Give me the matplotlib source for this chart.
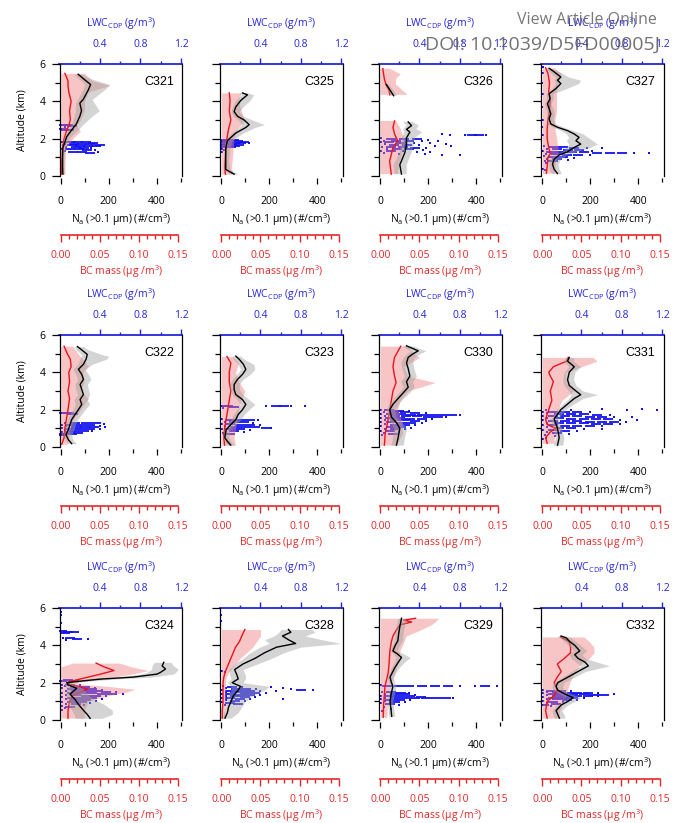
"""Vertical profiles of Na, BC mass and CDP LWC for 12 flights (3x4 panels)."""
import numpy as np
import matplotlib
matplotlib.use('Agg')
import matplotlib.pyplot as plt
from matplotlib.ticker import FixedLocator, FormatStrFormatter

plt.rcParams['font.family'] = ['Open Sans', 'DejaVu Sans']
plt.rcParams['mathtext.fontset'] = 'custom'
plt.rcParams['mathtext.rm'] = 'Open Sans'
plt.rcParams['mathtext.it'] = 'Open Sans:italic'
plt.rcParams['mathtext.default'] = 'regular'

# ── panel layout (row by row) ──
FLIGHTS = [['C321', 'C325', 'C326', 'C327'],
           ['C322', 'C323', 'C330', 'C331'],
           ['C324', 'C328', 'C329', 'C332']]

# ── Na profiles: (altitude km, mean, low, high) in #/cm3 ──
NA_C321 = [(0.1, 8, 3, 14), (0.5, 7, 3, 13), (1.0, 7, 3, 13), (1.5, 8, 4, 16),
           (2.1, 24, 12, 40), (2.45, 44, 28, 70), (2.8, 65, 45, 95), (3.2, 79, 55, 130),
           (3.5, 86, 60, 160), (3.9, 79, 62, 140), (4.1, 93, 70, 130), (4.6, 114, 90, 180),
           (4.9, 124, 100, 205), (5.15, 100, 80, 140), (5.3, 86, 65, 110), (5.45, 72, 55, 90)]
NA_C325 = [(0.1, 53, 40, 70), (0.35, 18, 8, 35), (0.8, 18, 8, 30), (1.5, 18, 10, 35),
           (1.9, 25, 15, 45), (2.3, 60, 40, 90), (2.6, 102, 75, 140), (2.75, 116, 85, 180),
           (3.0, 95, 70, 130), (3.2, 67, 50, 90), (3.45, 53, 40, 75), (3.7, 60, 45, 90),
           (4.05, 81, 60, 120), (4.35, 109, 85, 135), (4.45, 88, 70, 110)]
NA_C326 = [(0.1, 88, 60, 110), (0.6, 81, 55, 110), (1.25, 102, 80, 130), (1.7, 109, 85, 140),
           (2.05, 109, 90, 145), (2.35, 123, 100, 175), (2.5, 109, 95, 150), (2.7, 130, 110, 160),
           (2.9, 116, 95, 135), (3.5, np.nan, np.nan, np.nan),
           (4.3, 55, 45, 70), (4.5, 45, 35, 58), (4.7, 35, 25, 48), (4.9, 25, 18, 35)]
NA_C327 = [(0.13, 63, 40, 80), (0.36, 49, 30, 70), (0.63, 42, 25, 65), (0.9, 49, 30, 75),
           (1.13, 70, 50, 100), (1.3, 105, 80, 140), (1.53, 133, 100, 200), (1.71, 160, 110, 230),
           (1.89, 140, 100, 210), (2.07, 153, 110, 190), (2.25, 133, 100, 170), (2.43, 105, 80, 130),
           (2.61, 63, 45, 90), (2.79, 35, 20, 55), (3.06, 28, 18, 45), (3.33, 35, 20, 50),
           (3.6, 28, 15, 45), (3.87, 21, 10, 35), (4.14, 32, 18, 45), (4.41, 28, 15, 45),
           (4.68, 56, 40, 100), (4.95, 77, 55, 150), (5.13, 63, 50, 160), (5.3, 77, 55, 110),
           (5.58, 49, 30, 70), (5.77, 28, 15, 40)]
NA_C322 = [(0.18, 45, 30, 65), (0.39, 31, 18, 50), (0.66, 21, 10, 45), (0.93, 31, 15, 55),
           (1.2, 38, 20, 60), (1.47, 45, 28, 70), (1.74, 59, 38, 85), (2.0, 73, 50, 100),
           (2.28, 87, 60, 120), (2.54, 80, 55, 110), (2.81, 94, 70, 120), (3.08, 87, 62, 115),
           (3.35, 80, 58, 110), (3.62, 94, 70, 125), (3.89, 87, 62, 115), (4.16, 73, 50, 100),
           (4.43, 94, 70, 130), (4.7, 105, 80, 190), (4.85, 108, 85, 200), (4.96, 110, 85, 170),
           (5.2, 87, 65, 115), (5.38, 69, 55, 95)]
NA_C323 = [(0.1, 39, 25, 55), (0.3, 25, 12, 40), (0.5, 14, 5, 30), (0.93, 20, 10, 35),
           (1.2, 39, 25, 60), (1.47, 60, 40, 80), (1.74, 70, 50, 95), (2.0, 88, 65, 115),
           (2.28, 102, 80, 140), (2.54, 88, 65, 115), (2.81, 60, 45, 90), (3.08, 53, 35, 75),
           (3.35, 53, 35, 75), (3.62, 67, 45, 90), (3.89, 88, 65, 120), (4.16, 102, 80, 140),
           (4.43, 92, 70, 135), (4.7, 74, 50, 95), (4.87, 60, 45, 80)]
NA_C330 = [(0.1, 67, 45, 95), (0.5, 74, 50, 100), (1.0, 81, 55, 110), (1.3, 67, 45, 90),
           (1.6, 46, 30, 65), (2.0, 39, 25, 60), (2.3, 53, 35, 75), (2.6, 74, 55, 95),
           (2.9, 95, 75, 120), (3.2, 116, 95, 140), (3.5, 109, 85, 135), (3.8, 123, 100, 150),
           (4.2, 116, 90, 140), (4.5, 109, 85, 135), (4.8, 116, 95, 140), (5.0, 137, 110, 165),
           (5.15, 158, 125, 190), (5.42, 109, 90, 135)]
NA_C331 = [(0.1, 63, 45, 85), (0.5, 70, 55, 90), (1.0, 63, 45, 80), (1.5, 49, 35, 65),
           (2.0, 77, 60, 95), (2.3, 105, 85, 130), (2.6, 133, 110, 170), (2.8, 160, 120, 230),
           (3.0, 140, 110, 170), (3.3, 112, 90, 140), (3.6, 105, 85, 130), (4.0, 112, 90, 135),
           (4.3, 133, 110, 160), (4.6, 105, 90, 130), (4.8, 112, 95, 130)]
NA_C324 = [(0.09, 122, 60, 170), (0.3, 110, 55, 215), (0.52, 94, 45, 215), (0.84, 73, 30, 180),
           (1.1, 59, 25, 140), (1.38, 38, 20, 110), (1.7, 66, 25, 90), (1.88, 31, 15, 60),
           (2.0, 24, 12, 45), (2.06, 66, 30, 100), (2.19, 164, 100, 220), (2.3, 304, 240, 380),
           (2.46, 402, 330, 470), (2.55, 416, 360, 480), (2.73, 437, 380, 490), (2.9, 423, 380, 470),
           (3.09, 430, 390, 460)]
NA_C328 = [(0.1, 15, 5, 40), (0.4, 25, 10, 70), (0.7, 30, 15, 85), (1.0, 40, 20, 100),
           (1.3, 50, 25, 130), (1.6, 70, 40, 180), (1.8, 80, 40, 200), (2.0, 45, 25, 90),
           (2.2, 70, 40, 100), (2.4, 65, 35, 100), (2.7, 55, 30, 90), (3.0, 90, 55, 150),
           (3.3, 140, 90, 210), (3.6, 180, 120, 260), (3.9, 230, 160, 330), (4.1, 310, 200, 500),
           (4.3, 280, 180, 420), (4.5, 255, 220, 350), (4.7, 290, 240, 390), (4.85, 280, 250, 380)]
NA_C329 = [(0.2, 47, 35, 60), (0.6, 44, 32, 56), (1.0, 40, 28, 52), (1.4, 45, 32, 58),
           (1.8, 52, 40, 66), (2.05, 45, 33, 58), (2.3, 40, 28, 55), (2.55, 50, 38, 65),
           (2.8, 60, 45, 78), (3.1, 75, 58, 100), (3.35, 88, 65, 125), (3.55, 70, 55, 95),
           (3.7, 52, 40, 70), (4.0, 62, 48, 80), (4.25, 73, 58, 92), (4.6, 76, 60, 95),
           (5.0, 81, 65, 100), (5.25, 85, 70, 105), (5.45, 88, 72, 105)]
NA_C332 = [(0.1, 71, 50, 95), (0.3, 64, 45, 90), (0.5, 57, 40, 80), (0.8, 78, 60, 105),
           (1.0, 107, 85, 135), (1.2, 128, 100, 160), (1.4, 92, 70, 120), (1.6, 64, 45, 90),
           (1.8, 57, 40, 85), (2.0, 64, 45, 90), (2.3, 107, 85, 135), (2.6, 149, 120, 180),
           (2.9, 192, 160, 280), (3.1, 178, 140, 230), (3.3, 149, 120, 180), (3.5, 135, 110, 165),
           (3.7, 156, 130, 185), (4.0, 135, 110, 160), (4.2, 114, 90, 140), (4.4, 99, 75, 120),
           (4.5, 78, 60, 100)]

# ── BC mass profiles: (altitude km, mean, low, high) in ug/m3 ──
BC_C321 = [(0.1, 0.001, 0, 0.005), (0.6, 0.001, 0, 0.005), (1.5, 0.002, 0, 0.006),
           (2.0, 0.004, 0, 0.015), (2.4, 0.007, 0, 0.025), (2.7, 0.010, 0, 0.02),
           (3.0, 0.012, 0, 0.025), (3.5, 0.011, 0, 0.03), (4.0, 0.013, 0, 0.03),
           (4.5, 0.010, 0, 0.035), (4.85, 0.009, 0, 0.062), (5.1, 0.009, 0, 0.04),
           (5.3, 0.007, 0, 0.035), (5.5, 0.005, 0, 0.03)]
BC_C325 = [(0.1, 0.005, 0, 0.014), (0.5, 0.004, 0, 0.013), (1.0, 0.005, 0, 0.014),
           (1.5, 0.006, 0, 0.015), (2.0, 0.007, 0, 0.016), (2.5, 0.009, 0, 0.02),
           (3.0, 0.012, 0, 0.03), (3.5, 0.010, 0, 0.025), (4.0, 0.011, 0, 0.022),
           (4.45, 0.010, 0, 0.025)]
BC_C326 = [(0.1, 0.0138, 0, 0.022), (0.8, 0.0117, 0, 0.025), (1.5, 0.0159, 0, 0.03),
           (1.9, 0.022, 0, 0.032), (2.25, 0.018, 0, 0.028), (2.6, 0.016, 0, 0.025),
           (2.95, 0.018, 0, 0.02), (3.5, np.nan, np.nan, np.nan),
           (4.35, 0.012, 0, 0.035), (4.6, 0.011, 0, 0.028), (4.9, 0.007, 0, 0.02),
           (5.2, 0.005, 0, 0.02), (5.45, 0.004, 0, 0.026), (5.75, 0.003, 0, 0.012)]
BC_C327 = [(0.15, 0.005, 0, 0.015), (0.5, 0.006, 0, 0.016), (1.0, 0.007, 0, 0.018),
           (1.2, 0.010, 0, 0.02), (1.5, 0.008, 0, 0.02), (2.0, 0.006, 0, 0.018),
           (2.5, 0.006, 0, 0.016), (3.0, 0.007, 0, 0.016), (3.5, 0.009, 0, 0.018),
           (4.0, 0.010, 0, 0.018), (4.5, 0.008, 0, 0.018), (5.0, 0.009, 0, 0.02),
           (5.5, 0.007, 0, 0.024), (5.8, 0.004, 0, 0.015)]
BC_C322 = [(0.15, 0.001, 0, 0.008), (0.5, 0.004, 0, 0.01), (1.0, 0.005, 0, 0.012),
           (1.5, 0.007, 0, 0.016), (2.0, 0.009, 0, 0.025), (2.3, 0.010, 0, 0.03),
           (2.6, 0.011, 0, 0.035), (3.0, 0.009, 0, 0.025), (3.5, 0.011, 0, 0.03),
           (4.0, 0.010, 0, 0.028), (4.3, 0.013, 0, 0.035), (4.7, 0.012, 0, 0.028),
           (5.0, 0.008, 0, 0.022), (5.4, 0.004, 0, 0.015)]
BC_C323 = [(0.1, 0.004, 0, 0.018), (0.5, 0.003, 0, 0.016), (1.0, 0.004, 0, 0.018),
           (1.5, 0.006, 0, 0.02), (2.0, 0.008, 0, 0.022), (2.5, 0.010, 0, 0.025),
           (3.0, 0.012, 0, 0.03), (3.5, 0.010, 0, 0.022), (4.0, 0.010, 0, 0.018),
           (4.5, 0.012, 0, 0.022), (4.85, 0.007, 0, 0.015)]
BC_C330 = [(0.1, 0.005, 0, 0.02), (0.7, 0.006, 0, 0.028), (1.3, 0.009, 0, 0.028),
           (2.0, 0.012, 0, 0.022), (2.5, 0.014, 0, 0.025), (3.0, 0.016, 0, 0.035),
           (3.45, 0.020, 0, 0.07), (3.8, 0.018, 0, 0.035), (4.3, 0.016, 0, 0.03),
           (4.8, 0.018, 0, 0.05), (5.1, 0.022, 0, 0.04), (5.4, 0.026, 0, 0.035)]
BC_C331 = [(0.2, 0.006, 0, 0.015), (0.5, 0.004, 0, 0.015), (0.8, 0.010, 0, 0.02),
           (1.0, 0.017, 0, 0.025), (1.2, 0.006, 0, 0.018), (1.5, 0.004, 0, 0.015),
           (2.0, 0.008, 0, 0.02), (2.5, 0.012, 0, 0.025), (3.0, 0.010, 0, 0.04),
           (3.5, 0.014, 0, 0.03), (3.8, 0.010, 0, 0.03), (4.0, 0.008, 0, 0.03),
           (4.3, 0.014, 0, 0.05), (4.6, 0.031, 0, 0.07), (4.8, 0.033, 0, 0.065)]
BC_C324 = [(0.1, 0.009, 0, 0.03), (0.5, 0.009, 0, 0.03), (1.0, 0.011, 0, 0.035),
           (1.3, 0.015, 0, 0.06), (1.5, 0.025, 0, 0.085), (1.65, 0.034, 0, 0.095),
           (1.8, 0.022, 0, 0.06), (1.9, 0.012, 0, 0.03), (2.0, 0.008, 0, 0.02),
           (2.1, 0.015, 0, 0.03), (2.25, 0.03, 0, 0.06), (2.45, 0.05, 0, 0.09),
           (2.65, 0.068, 0, 0.112), (2.85, 0.055, 0, 0.09), (3.05, 0.045, 0.015, 0.075)]
BC_C328 = [(0.1, 0.001, 0, 0.004), (0.5, 0.001, 0, 0.004), (1.0, 0.002, 0, 0.005),
           (1.5, 0.002, 0, 0.005), (2.0, 0.002, 0, 0.005), (2.3, 0.003, 0, 0.006),
           (2.6, 0.005, 0, 0.01), (2.9, 0.008, 0, 0.016), (3.3, 0.012, 0, 0.024),
           (3.6, 0.015, 0, 0.032), (3.9, 0.018, 0, 0.04), (4.2, 0.023, 0, 0.045),
           (4.5, 0.026, 0, 0.05), (4.85, 0.030, 0, 0.05)]
BC_C329 = [(0.15, 0.0035, 0, 0.008), (0.8, 0.004, 0, 0.009), (1.8, 0.0057, 0, 0.012),
           (2.5, 0.0098, 0, 0.018), (3.0, 0.011, 0, 0.022), (3.7, 0.012, 0, 0.025),
           (4.2, 0.014, 0, 0.03), (4.5, 0.016, 0, 0.033), (4.8, 0.020, 0, 0.05),
           (5.1, 0.025, 0, 0.065), (5.25, 0.040, 0, 0.07), (5.35, 0.030, 0, 0.072),
           (5.45, 0.045, 0, 0.075)]
BC_C332 = [(0.1, 0.006, 0, 0.02), (0.5, 0.004, 0, 0.022), (1.0, 0.006, 0, 0.028),
           (1.3, 0.015, 0, 0.03), (1.6, 0.019, 0, 0.032), (2.0, 0.015, 0, 0.035),
           (2.3, 0.019, 0, 0.038), (2.6, 0.024, 0, 0.042), (3.0, 0.019, 0, 0.049),
           (3.3, 0.028, 0, 0.06), (3.6, 0.036, 0, 0.066), (3.9, 0.036, 0, 0.066),
           (4.2, 0.034, 0, 0.06), (4.45, 0.023, 0, 0.053)]

# ── CDP liquid water content samples: (altitude km, LWC g/m3) ──
LWC_C321 = [(1.8, 0.02), (1.8, 0.10), (1.8, 0.18), (1.8, 0.26), (1.78, 0.33),
            (1.72, 0.05), (1.72, 0.14), (1.72, 0.22), (1.7, 0.30), (1.68, 0.40),
            (1.64, 0.03), (1.64, 0.12), (1.62, 0.20), (1.6, 0.28), (1.62, 0.36),
            (1.55, 0.06), (1.55, 0.16), (1.52, 0.24), (1.5, 0.31),
            (1.45, 0.02), (1.45, 0.10), (1.42, 0.19), (1.4, 0.27), (1.38, 0.35),
            (1.33, 0.05), (1.3, 0.13), (1.3, 0.22), (1.28, 0.38), (1.25, 0.30),
            (2.75, 0.02), (2.72, 0.08), (2.7, 0.12), (2.5, 0.03), (2.48, 0.09),
            (2.45, 0.06), (2.6, 0.05)]
LWC_C325 = [(1.95, 0.02), (1.95, 0.08), (1.93, 0.14), (1.9, 0.05), (1.88, 0.11),
            (1.86, 0.18), (1.84, 0.24), (1.8, 0.03), (1.8, 0.09), (1.78, 0.15),
            (1.76, 0.21), (1.75, 0.29), (1.72, 0.06), (1.7, 0.12), (1.68, 0.19),
            (1.65, 0.02), (1.63, 0.09), (1.6, 0.15), (1.58, 0.05), (1.55, 0.11),
            (1.45, 0.02), (1.4, 0.04), (1.3, 0.02)]
LWC_C326 = [(2.02, 0.02), (2.0, 0.12), (2.0, 0.25), (1.98, 0.38), (1.95, 0.48),
            (1.9, 0.05), (1.9, 0.17), (1.88, 0.3), (1.86, 0.42), (1.85, 0.58),
            (1.8, 0.02), (1.8, 0.1), (1.78, 0.22), (1.76, 0.35), (1.75, 0.5), (1.74, 0.66),
            (1.7, 0.06), (1.68, 0.15), (1.67, 0.28), (1.65, 0.4), (1.63, 0.55), (1.62, 0.71),
            (1.58, 0.03), (1.56, 0.12), (1.55, 0.24), (1.52, 0.36), (1.5, 0.46),
            (1.46, 0.08), (1.44, 0.18), (1.42, 0.3), (1.4, 0.43),
            (1.36, 0.02), (1.34, 0.12), (1.32, 0.24), (1.3, 0.38), (1.28, 0.5),
            (1.22, 0.05), (1.2, 0.2), (1.18, 0.45), (1.15, 0.62), (1.12, 0.8),
            (2.22, 0.85), (2.22, 0.92), (2.21, 0.99), (2.2, 1.06), (2.25, 0.62), (2.2, 0.7)]
LWC_C327 = [(1.6, 0.03), (1.58, 0.12), (1.55, 0.22), (1.52, 0.33), (1.5, 0.45), (1.48, 0.6),
            (1.45, 0.06), (1.42, 0.16), (1.4, 0.27), (1.38, 0.38), (1.36, 0.5),
            (1.32, 0.02), (1.3, 0.1), (1.28, 0.2), (1.27, 0.31), (1.26, 0.42), (1.25, 0.55),
            (1.25, 0.68), (1.24, 0.8), (1.25, 0.92), (1.24, 1.07),
            (1.2, 0.05), (1.18, 0.15), (1.15, 0.26), (1.12, 0.37), (1.1, 0.48),
            (1.05, 0.03), (1.02, 0.12), (1.0, 0.22), (0.97, 0.33),
            (0.92, 0.06), (0.9, 0.16), (0.86, 0.27), (0.8, 0.04), (0.78, 0.12), (0.72, 0.05),
            (2.2, 0.02), (2.6, 0.01), (3.0, 0.02), (3.7, 0.01), (4.4, 0.02), (5.0, 0.01),
            (5.5, 0.02), (5.85, 0.02), (0.4, 0.02), (0.3, 0.04)]
LWC_C322 = [(1.3, 0.05), (1.28, 0.15), (1.27, 0.26), (1.26, 0.36), (1.25, 0.44),
            (1.2, 0.02), (1.18, 0.1), (1.17, 0.2), (1.16, 0.3), (1.15, 0.4),
            (1.1, 0.06), (1.08, 0.16), (1.07, 0.25), (1.06, 0.34), (1.05, 0.45),
            (1.0, 0.02), (0.98, 0.1), (0.97, 0.2), (0.96, 0.3), (0.95, 0.4),
            (0.9, 0.05), (0.88, 0.14), (0.86, 0.24), (0.84, 0.32),
            (0.8, 0.02), (0.78, 0.1), (0.76, 0.18), (0.72, 0.04), (0.7, 0.12),
            (0.65, 0.02), (0.62, 0.06),
            (1.82, 0.01), (1.8, 0.05), (1.8, 0.09), (1.79, 0.13)]
LWC_C323 = [(1.48, 0.02), (1.46, 0.1), (1.45, 0.2), (1.44, 0.3), (1.42, 0.38),
            (1.36, 0.05), (1.34, 0.14), (1.32, 0.24), (1.3, 0.33),
            (1.25, 0.02), (1.22, 0.1), (1.2, 0.2), (1.18, 0.3), (1.17, 0.4),
            (1.1, 0.05), (1.08, 0.15), (1.06, 0.25), (1.05, 0.35), (1.04, 0.45), (1.03, 0.5),
            (0.98, 0.02), (0.96, 0.1), (0.94, 0.2), (0.92, 0.3),
            (0.86, 0.05), (0.84, 0.14), (0.8, 0.24), (0.75, 0.03), (0.72, 0.1), (0.66, 0.04),
            (2.2, 0.02), (2.18, 0.08), (2.15, 0.14), (2.2, 0.45), (2.2, 0.55), (2.2, 0.63),
            (2.2, 0.7), (2.21, 0.84), (2.1, 0.03)]
LWC_C330 = [(1.98, 0.02), (1.96, 0.1), (1.95, 0.2), (1.93, 0.3),
            (1.88, 0.05), (1.86, 0.15), (1.85, 0.26), (1.84, 0.36), (1.82, 0.46),
            (1.78, 0.02), (1.76, 0.12), (1.75, 0.22), (1.74, 0.32), (1.72, 0.42), (1.72, 0.52),
            (1.73, 0.62), (1.74, 0.72), (1.74, 0.8),
            (1.68, 0.06), (1.66, 0.16), (1.65, 0.27), (1.64, 0.38), (1.62, 0.48), (1.62, 0.58),
            (1.6, 0.66),
            (1.56, 0.02), (1.55, 0.11), (1.54, 0.21), (1.52, 0.31), (1.5, 0.42), (1.5, 0.52),
            (1.45, 0.06), (1.43, 0.16), (1.42, 0.26), (1.4, 0.36), (1.38, 0.46),
            (1.34, 0.02), (1.32, 0.12), (1.3, 0.22), (1.28, 0.32), (1.26, 0.42),
            (1.22, 0.06), (1.2, 0.16), (1.18, 0.26), (1.16, 0.36),
            (1.1, 0.02), (1.08, 0.12), (1.06, 0.22), (1.04, 0.32),
            (0.98, 0.06), (0.96, 0.16), (0.94, 0.26),
            (0.88, 0.02), (0.85, 0.11), (0.82, 0.2), (0.76, 0.05), (0.72, 0.14), (0.66, 0.03)]
LWC_C331 = [(2.0, 0.05), (2.0, 0.3), (2.02, 0.6), (2.0, 0.85), (2.01, 1.0), (2.0, 1.15),
            (1.9, 0.02), (1.88, 0.12), (1.87, 0.24), (1.86, 0.36), (1.85, 0.48),
            (1.8, 0.06), (1.78, 0.18), (1.76, 0.3), (1.75, 0.42), (1.74, 0.55), (1.73, 0.68),
            (1.68, 0.02), (1.66, 0.12), (1.65, 0.24), (1.64, 0.36), (1.62, 0.48), (1.61, 0.6),
            (1.6, 0.72), (1.6, 0.9),
            (1.55, 0.06), (1.53, 0.18), (1.52, 0.3), (1.5, 0.42), (1.49, 0.54), (1.48, 0.66),
            (1.47, 0.78), (1.47, 0.95),
            (1.42, 0.02), (1.4, 0.12), (1.39, 0.24), (1.38, 0.36), (1.36, 0.48), (1.35, 0.6),
            (1.34, 0.72), (1.34, 0.84),
            (1.3, 0.06), (1.28, 0.18), (1.27, 0.3), (1.26, 0.42), (1.25, 0.54), (1.24, 0.66),
            (1.22, 0.78),
            (1.18, 0.02), (1.16, 0.12), (1.15, 0.24), (1.13, 0.36), (1.12, 0.48), (1.1, 0.6),
            (1.05, 0.06), (1.03, 0.18), (1.0, 0.3), (0.98, 0.42), (0.97, 0.6),
            (0.92, 0.02), (0.9, 0.12), (0.88, 0.24), (0.85, 0.36),
            (0.78, 0.06), (0.75, 0.16), (0.72, 0.28), (0.65, 0.04), (0.6, 0.14), (0.5, 0.05),
            (0.42, 0.02)]
LWC_C324 = [(1.9, 0.02), (1.88, 0.1), (1.86, 0.2),
            (1.8, 0.05), (1.78, 0.15), (1.76, 0.25), (1.74, 0.35),
            (1.7, 0.02), (1.68, 0.12), (1.66, 0.22), (1.64, 0.32), (1.62, 0.42),
            (1.58, 0.06), (1.56, 0.16), (1.55, 0.26), (1.54, 0.36), (1.52, 0.46), (1.5, 0.56),
            (1.46, 0.02), (1.44, 0.12), (1.43, 0.22), (1.42, 0.32), (1.4, 0.42), (1.38, 0.52),
            (1.38, 0.63),
            (1.34, 0.06), (1.32, 0.16), (1.3, 0.26), (1.28, 0.36), (1.26, 0.46),
            (1.22, 0.02), (1.2, 0.12), (1.18, 0.22), (1.16, 0.32), (1.14, 0.42),
            (1.1, 0.06), (1.08, 0.16), (1.06, 0.26), (1.04, 0.36),
            (0.98, 0.02), (0.96, 0.12), (0.94, 0.22), (0.92, 0.3),
            (0.86, 0.06), (0.84, 0.16), (0.8, 0.24), (0.74, 0.02), (0.72, 0.1), (0.65, 0.05),
            (0.55, 0.02),
            (2.1, 0.02), (2.12, 0.08), (2.1, 0.14),
            (4.75, 0.02), (4.72, 0.08), (4.7, 0.14), (4.65, 0.05), (4.4, 0.03), (4.38, 0.1),
            (4.35, 0.17), (4.35, 0.28), (4.3, 0.06),
            (5.2, 0.01), (5.6, 0.01), (5.8, 0.01)]
LWC_C328 = [(1.8, 0.03), (1.78, 0.12), (1.76, 0.22), (1.75, 0.5), (1.74, 0.62),
            (1.7, 0.06), (1.68, 0.16), (1.66, 0.26), (1.65, 0.36), (1.64, 0.7), (1.63, 0.8),
            (1.62, 0.92),
            (1.6, 0.02), (1.58, 0.1), (1.56, 0.2), (1.55, 0.3), (1.54, 0.4), (1.56, 0.55),
            (1.5, 0.06), (1.48, 0.15), (1.46, 0.25), (1.45, 0.35), (1.44, 0.45),
            (1.4, 0.02), (1.38, 0.1), (1.36, 0.2), (1.34, 0.3), (1.33, 0.4),
            (1.28, 0.06), (1.26, 0.15), (1.24, 0.25), (1.22, 0.35),
            (1.18, 0.02), (1.16, 0.1), (1.14, 0.2), (1.12, 0.3), (1.1, 0.62),
            (1.05, 0.06), (1.02, 0.15), (1.0, 0.25),
            (0.94, 0.02), (0.92, 0.1), (0.88, 0.18), (0.82, 0.05),
            (2.6, 0.02), (2.58, 0.05), (5.3, 0.01), (5.6, 0.01)]
LWC_C329 = [(1.85, 0.02), (1.83, 0.08), (1.83, 0.2), (1.84, 0.3), (1.83, 0.42), (1.84, 0.55),
            (1.83, 0.68), (1.84, 0.8), (1.83, 0.95), (1.84, 1.05), (1.83, 1.17),
            (1.5, 0.03), (1.48, 0.12), (1.47, 0.22), (1.45, 0.3),
            (1.4, 0.06), (1.38, 0.16), (1.37, 0.26), (1.36, 0.36),
            (1.3, 0.02), (1.28, 0.11), (1.27, 0.21), (1.26, 0.31), (1.25, 0.41),
            (1.2, 0.06), (1.2, 0.16), (1.19, 0.26), (1.18, 0.36), (1.2, 0.46), (1.2, 0.56),
            (1.2, 0.66), (1.2, 0.73),
            (1.1, 0.02), (1.08, 0.11), (1.06, 0.21), (1.05, 0.31),
            (1.0, 0.06), (0.98, 0.16), (0.96, 0.26),
            (0.9, 0.02), (0.86, 0.11), (0.8, 0.2), (0.7, 0.05), (0.6, 0.12), (0.5, 0.03)]
LWC_C332 = [(1.6, 0.02), (1.58, 0.1), (1.56, 0.2), (1.55, 0.3),
            (1.5, 0.06), (1.48, 0.16), (1.47, 0.26), (1.46, 0.36), (1.45, 0.46), (1.44, 0.56),
            (1.42, 0.02), (1.4, 0.12), (1.39, 0.22), (1.38, 0.32), (1.37, 0.42), (1.36, 0.52),
            (1.36, 0.62), (1.37, 0.72),
            (1.32, 0.06), (1.3, 0.16), (1.29, 0.26), (1.28, 0.36), (1.27, 0.46), (1.26, 0.56),
            (1.22, 0.02), (1.2, 0.12), (1.19, 0.22), (1.18, 0.32), (1.16, 0.42),
            (1.12, 0.06), (1.1, 0.16), (1.08, 0.26), (1.06, 0.36),
            (1.0, 0.02), (0.98, 0.12), (0.96, 0.22),
            (0.9, 0.06), (0.86, 0.15), (0.8, 0.03), (0.75, 0.1)]

NA = {k[3:]: v for k, v in list(globals().items()) if k.startswith('NA_C')}
BC = {k[3:]: v for k, v in list(globals().items()) if k.startswith('BC_C')}
LWC = {k[4:]: v for k, v in list(globals().items()) if k.startswith('LWC_C')}

# colours
BLUE = '#2525d8'
RED = '#e02828'
PT_BLUE = '#1010ee'

# layout in pixels of the 673x823 canvas
W, H = 673, 823
COL_LEFT = [59.5, 220, 379, 541]
ROW_TOP = [64, 335, 608]
BOX_W, BOX_H = 122.5, 112
PX = 0.72  # points per pixel at dpi 100


def crowded(pts):
    """True for samples that sit inside a dense cloud (>=2 close neighbours)."""
    d_alt = np.abs(pts[:, None, 0] - pts[None, :, 0])
    d_lwc = np.abs(pts[:, None, 1] - pts[None, :, 1])
    near = (d_alt < 0.07) & (d_lwc < 0.135)
    return near.sum(axis=1) - 1 >= 2


def draw_panel(fig, name, row, col):
    rect = [COL_LEFT[col] / W, 1 - (ROW_TOP[row] + BOX_H) / H, BOX_W / W, BOX_H / H]
    ax = fig.add_axes(rect)
    ax_lwc = ax.twiny()
    ax_bc = ax.twiny()
    for a, z in ((ax_lwc, 1), (ax_bc, 2), (ax, 3)):
        a.set_zorder(z)
        a.patch.set_visible(False)

    # --- LWC scatter (top axis, blue) ---
    pts = np.array(LWC[name])
    dense = crowded(pts)
    ax_lwc.scatter(pts[dense, 1], pts[dense, 0], s=55, marker='_', color=PT_BLUE,
                   linewidths=1.3)
    ax_lwc.scatter(pts[~dense, 1], pts[~dense, 0], s=4, marker='s', color=PT_BLUE,
                   linewidths=0)
    ax_lwc.set_xlim(0, 1.21)
    ax_lwc.xaxis.set_major_locator(FixedLocator([0.4, 0.8, 1.2]))
    ax_lwc.xaxis.set_minor_locator(FixedLocator([0.2, 0.6, 1.0]))
    ax_lwc.xaxis.set_major_formatter(FormatStrFormatter('%.1f'))
    ax_lwc.tick_params(axis='x', which='major', direction='out', length=4.5,
                       width=1, colors=BLUE, pad=5.5, labelsize=7.5)
    ax_lwc.tick_params(axis='x', which='minor', direction='out', length=2.5,
                       width=1, colors=BLUE)
    for s in ('left', 'right', 'bottom'):
        ax_lwc.spines[s].set_visible(False)
    ax_lwc.spines['top'].set_color(BLUE)
    ax_lwc.spines['top'].set_linewidth(1.3)
    ax_lwc.text(0.5, 1 + 40 / BOX_H, r'LWC$_{CDP}$ (g/m$^{3}$)', transform=ax.transAxes,
                ha='center', va='center', fontsize=7.5, color=BLUE)

    # --- BC mass (separate red axis below) ---
    bc = np.array(BC[name], dtype=float)
    ax_bc.fill_betweenx(bc[:, 0], bc[:, 2], bc[:, 3], color='#ee8080', alpha=0.45,
                        linewidth=0)
    ax_bc.plot(bc[:, 1], bc[:, 0], color='#e8141e', lw=1.0)
    ax_bc.set_xlim(-0.0019, 0.1551)
    ax_bc.xaxis.tick_bottom()
    ax_bc.xaxis.set_label_position('bottom')
    for s in ('left', 'right', 'top'):
        ax_bc.spines[s].set_visible(False)
    ax_bc.spines['bottom'].set_position(('outward', 59 * PX))
    ax_bc.spines['bottom'].set_bounds(0, 0.15)
    ax_bc.spines['bottom'].set_color(RED)
    ax_bc.spines['bottom'].set_linewidth(1.2)
    ax_bc.xaxis.set_major_locator(FixedLocator([0, 0.05, 0.10, 0.15]))
    ax_bc.xaxis.set_minor_locator(FixedLocator(np.arange(0, 0.1501, 0.01)))
    ax_bc.xaxis.set_major_formatter(FormatStrFormatter('%.2f'))
    ax_bc.tick_params(axis='x', which='major', direction='out', length=5, width=1,
                      colors=RED, pad=6, labelsize=7.5)
    ax_bc.tick_params(axis='x', which='minor', direction='out', length=3.2, width=1,
                      colors=RED)
    ax_bc.text(0.5, -96 / BOX_H, 'BC mass (µg /m$^{3}$)', transform=ax.transAxes,
               ha='center', va='center', fontsize=7.5, color=RED)

    # --- Na (main axis, black) ---
    na = np.array(NA[name], dtype=float)
    ax.fill_betweenx(na[:, 0], na[:, 2], na[:, 3], color='#a0a0a0', alpha=0.45,
                     linewidth=0)
    ax.plot(na[:, 1], na[:, 0], color='black', lw=1.0)
    ax.set_xlim(-6, 506)
    ax.set_ylim(0, 6)
    ax.spines['top'].set_visible(False)
    ax.spines['bottom'].set_visible(False)
    ax.spines['bottom'].set_position(('outward', 2 * PX))
    for s in ('left', 'right'):
        ax.spines[s].set_linewidth(0.9)
    ax.xaxis.set_major_locator(FixedLocator([0, 200, 400]))
    ax.xaxis.set_minor_locator(FixedLocator([100, 300, 500]))
    ax.yaxis.set_major_locator(FixedLocator([0, 2, 4, 6]))
    ax.yaxis.set_minor_locator(FixedLocator([1, 3, 5]))
    ax.tick_params(axis='x', which='major', direction='out', length=4.5, width=0.9,
                   pad=8.5, labelsize=7.5)
    ax.tick_params(axis='x', which='minor', direction='out', length=2.8, width=0.9)
    ax.tick_params(axis='y', which='major', direction='out', length=6, width=0.9,
                   pad=4, labelsize=7.5, labelleft=(col == 0))
    ax.tick_params(axis='y', which='minor', direction='out', length=3.5, width=0.9)
    ax.text(0.5, -44 / BOX_H, r'N$_a$ (>0.1 µm) (#/cm$^{3}$)', transform=ax.transAxes,
            ha='center', va='center', fontsize=7.5)
    if col == 0:
        ax.text(-37 / BOX_W, 0.5, 'Altitude (km)', transform=ax.transAxes,
                rotation=90, ha='center', va='center', fontsize=7.5)
    ax.text(0.935, 0.84, name, transform=ax.transAxes, ha='right', va='center',
            fontsize=9, family='Liberation Sans')


def main():
    fig = plt.figure(figsize=(W / 100, H / 100), dpi=100)
    fig.patch.set_facecolor('white')
    for r, row in enumerate(FLIGHTS):
        for c, name in enumerate(row):
            draw_panel(fig, name, r, c)

    # journal page watermark
    fig.text(657 / W, 1 - 20 / H, 'View Article Online', ha='right', va='center',
             fontsize=11.5, color='#6a6a6a', alpha=0.9)
    fig.text(660 / W, 1 - 45 / H, 'DOI: 10.1039/D5FD00005J', ha='right', va='center',
             fontsize=14, color='#5a5a5a', alpha=0.85)

    fig.savefig('out.png', dpi=100)
    plt.close(fig)


if __name__ == '__main__':
    main()
